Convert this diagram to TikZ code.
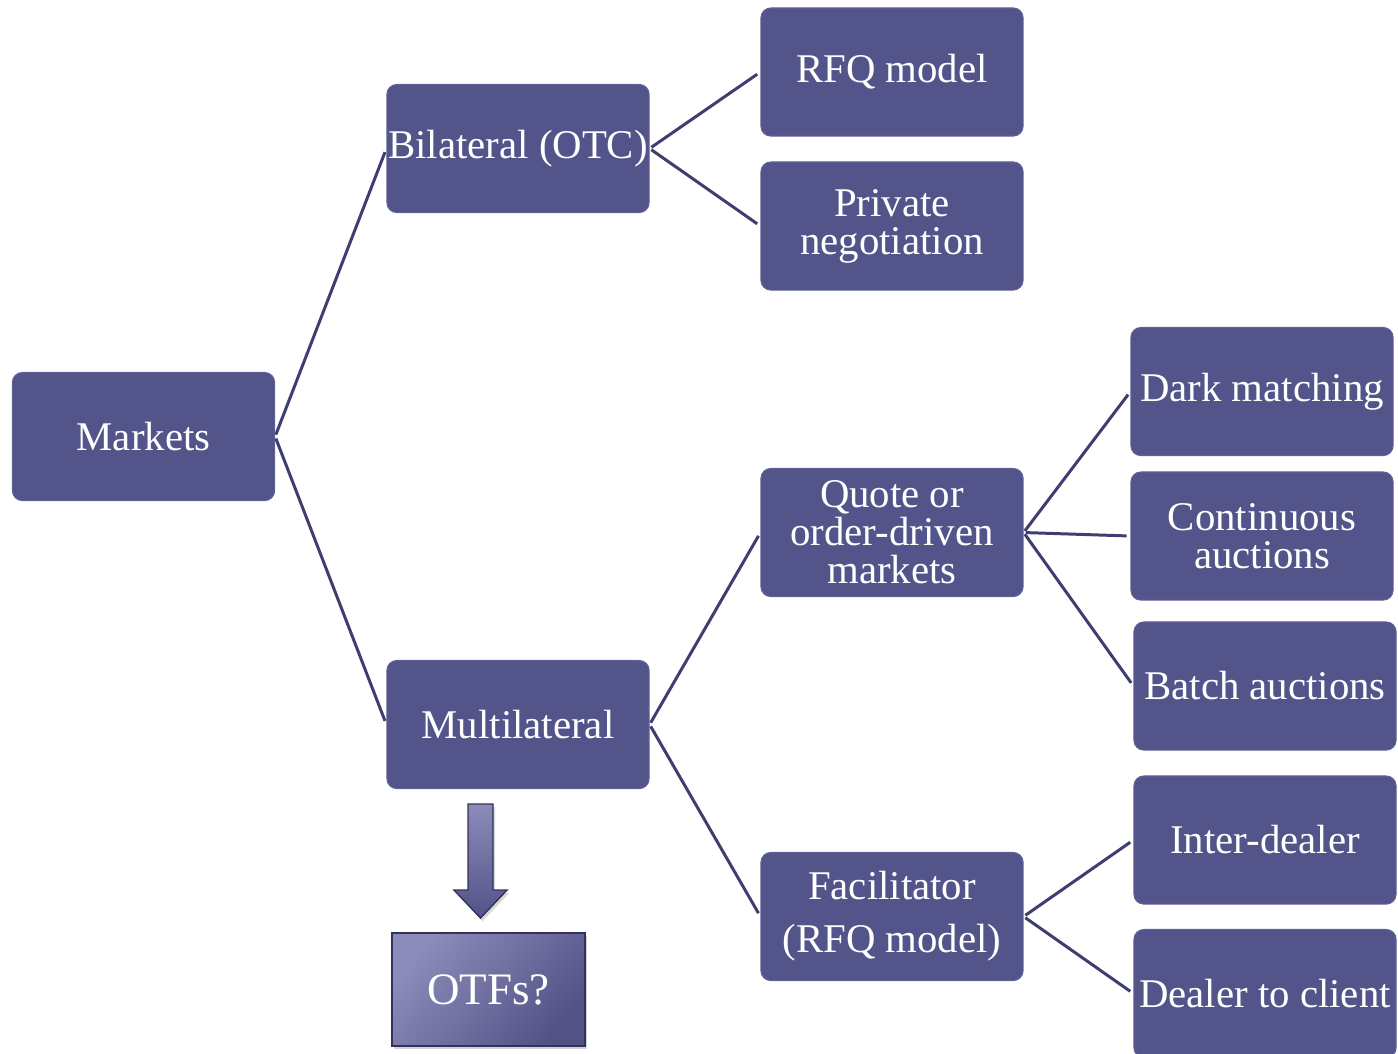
\documentclass[tikz,border=0pt]{standalone}
\usepackage{fontspec}
\setmainfont{Liberation Serif}
\usetikzlibrary{shadows}
\definecolor{boxfill}{RGB}{83,84,138}
\definecolor{boxedge}{RGB}{96,97,150}
\definecolor{linkcol}{RGB}{62,62,112}
\definecolor{shadetop}{RGB}{140,140,186}
\definecolor{shadebot}{RGB}{82,82,135}
\tikzset{
  box/.style={draw=boxedge, line width=0.3pt, fill=boxfill, rounded corners=2.8pt,
    minimum width=2.62cm, minimum height=1.28cm, inner sep=0pt,
    text=white, align=center, font=\fontsize{11.6}{10.8}\selectfont},
  link/.style={draw=linkcol, line width=0.85pt, shorten <=0.6pt, shorten >=1.1pt},
  otfbox/.style={draw=linkcol!80!black, line width=0.6pt,
    top color=shadetop, bottom color=shadebot, shading angle=50,
    drop shadow={shadow xshift=0.6pt, shadow yshift=-0.9pt, opacity=0.35},
    minimum width=1.93cm, minimum height=1.13cm, inner sep=0pt,
    text=white, font=\fontsize{12.8}{14}\selectfont},
}
\begin{document}
\begin{tikzpicture}[x=0.01cm, y=-0.01cm]
\useasboundingbox (0,0) rectangle (1398,1053);

% first level
\node[box] (mk) at (143.5,436.5) {Markets};
% second level
\node[box] (bi) at (518,148.5) {Bilateral (OTC)};
\node[box] (ml) at (518,724.5) {Multilateral};
% third level
\node[box] (rfq) at (892,72) {RFQ model};
\node[box] (pn)  at (892,226) {Private\\negotiation};
\node[box] (qo)  at (892,532.5) {Quote or\\order-driven\\markets};
\node[box] (fa)  at (892,916.5) {Facilitator\\[4.2pt](RFQ model)};
% fourth level
\node[box] (dm) at (1262,391.5) {Dark matching};
\node[box] (ca) at (1262,536) {Continuous\\auctions};
\node[box] (ba) at (1265,686) {Batch auctions};
\node[box] (id) at (1265,840) {Inter-dealer};
\node[box] (dc) at (1265,993.5) {Dealer to client};

% tree connectors
\draw[link] (mk.east) -- (bi.west);
\draw[link] (mk.east) -- (ml.west);
\draw[link] (bi.east) -- (rfq.west);
\draw[link] (bi.east) -- (pn.west);
\draw[link] (ml.east) -- (qo.west);
\draw[link] (ml.east) -- (fa.west);
\draw[link] (qo.east) -- (dm.west);
\draw[link] (qo.east) -- (ca.west);
\draw[link] (qo.east) -- (ba.west);
\draw[link] (fa.east) -- (id.west);
\draw[link] (fa.east) -- (dc.west);

% OTFs box and the block arrow pointing to it
\node[otfbox] (otf) at (488.5,989.5) {OTFs?};
\coordinate (atop) at (480.5,804);
\path[draw=linkcol!80!black, line width=0.4pt, top color=shadetop, bottom color=shadebot,
      drop shadow={shadow xshift=0.6pt, shadow yshift=-0.9pt, opacity=0.3}]
  ([xshift=-0.125cm]atop) -- ([xshift=0.125cm]atop)
  -- ++(0,86) -- ++(14,0) -- (480.5,918) -- (454,890) -- (468,890) -- cycle;
\end{tikzpicture}
\end{document}
